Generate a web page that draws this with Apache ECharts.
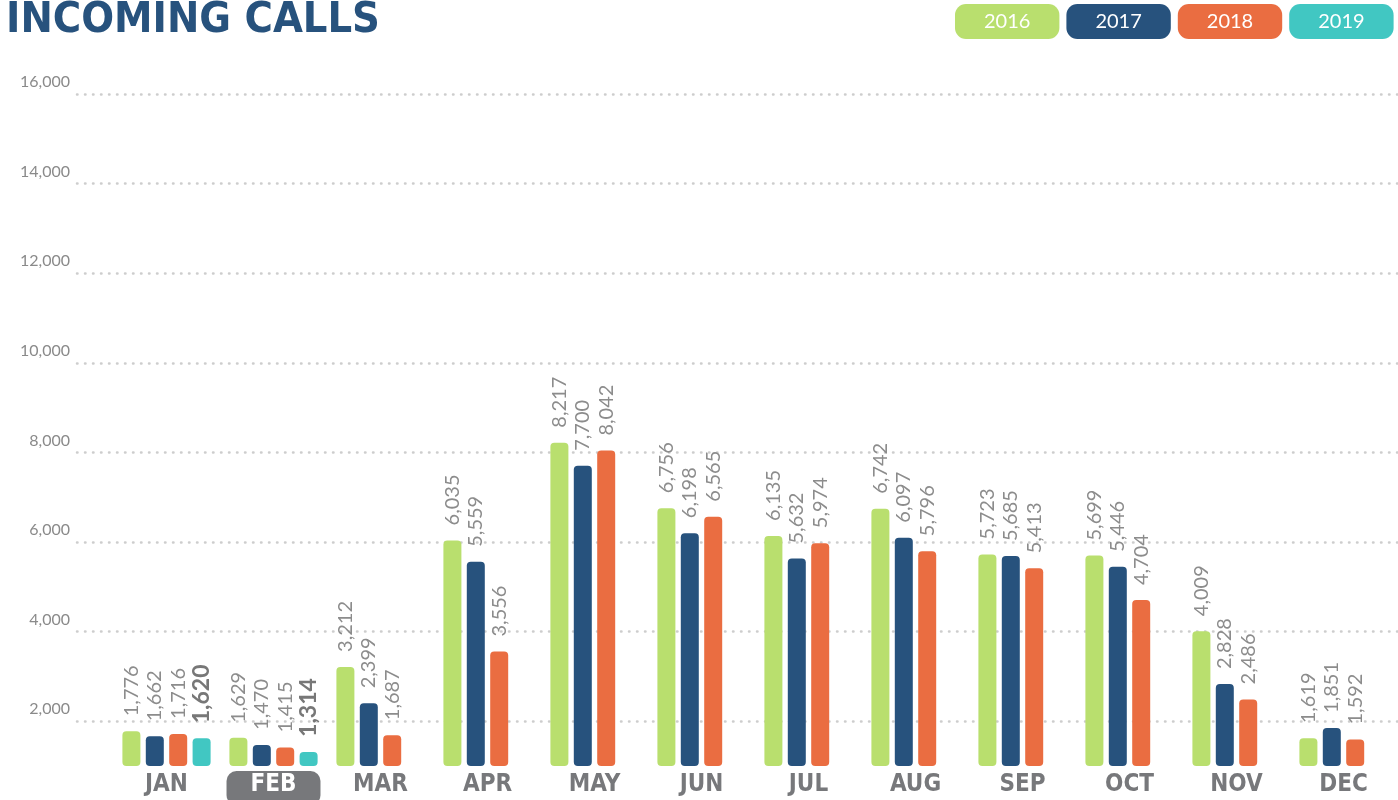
<!DOCTYPE html>
<html>
<head>
<meta charset="utf-8">
<script src="https://cdn.jsdelivr.net/npm/echarts@6/dist/echarts.min.js"></script>
<style>
html,body{margin:0;padding:0;background:#fff;}
#chart{width:1398px;height:800px;}
</style>
</head>
<body>
<div id="chart"></div>
<script>
const months = ['JAN','FEB','MAR','APR','MAY','JUN','JUL','AUG','SEP','OCT','NOV','DEC'];
const years = ['2016','2017','2018','2019'];
const calls2016 = [1776,1629,3212,6035,8217,6756,6135,6742,5723,5699,4009,1619];
const calls2017 = [1662,1470,2399,5559,7700,6198,5632,6097,5685,5446,2828,1851];
const calls2018 = [1716,1415,1687,3556,8042,6565,5974,5796,5413,4704,2486,1592];
const calls2019 = [1620,1314,null,null,null,null,null,null,null,null,null,null];
const yTicks = [2000,4000,6000,8000,10000,12000,14000,16000];
const highlightMonth = 'FEB';
const colors = ['#b9df6e','#27527d','#ea6d41','#41c7c2'];

const condensed = "'DejaVu Sans Condensed', 'Liberation Sans Narrow', 'DejaVu Sans', sans-serif";

const chart = echarts.init(document.getElementById('chart'));
const seriesData = [calls2016, calls2017, calls2018, calls2019];
const fmt = v => v.toLocaleString('en-US');

const series = seriesData.map((d, i) => ({
  name: years[i],
  type: 'bar',
  xAxisIndex: 1,
  yAxisIndex: 1,
  data: d,
  barWidth: 18,
  barGap: '30%',
  itemStyle: { color: colors[i], borderRadius: 4 },
  label: {
    show: true,
    position: 'top',
    rotate: 90,
    align: 'left',
    verticalAlign: 'middle',
    distance: 15,
    fontFamily: 'Lato',
    fontSize: i === 3 ? 23 : 20,
    fontWeight: i === 3 ? 'bold' : 'normal',
    color: i === 3 ? '#777777' : '#8c8c8c',
    formatter: p => p.value == null ? '' : fmt(p.value)
  }
}));

const option = {
  animation: false,
  backgroundColor: '#ffffff',
  title: {
    text: 'INCOMING CALLS',
    left: 6,
    top: -1,
    padding: 0,
    textStyle: {
      fontFamily: condensed,
      fontWeight: 'bold',
      fontSize: 43,
      color: '#27527d'
    }
  },
  legend: {
    data: years.map((y, i) => ({
      name: y,
      textStyle: { backgroundColor: colors[i] }
    })),
    left: 950,
    top: 4,
    width: 448,
    padding: 0,
    itemWidth: 0,
    itemHeight: 0,
    itemGap: 2,
    selectedMode: false,
    textStyle: {
      color: '#ffffff',
      fontFamily: 'Lato',
      fontSize: 20,
      height: 35,
      lineHeight: 35,
      padding: [0, 29, 0, 29],
      borderRadius: 11
    }
  },
  grid: [
    { left: 77, right: 0, top: 94, bottom: 34, outerBoundsMode: 'none', containLabel: false },
    { left: 113, right: 1, top: 94, bottom: 34, outerBoundsMode: 'none', containLabel: false }
  ],
  xAxis: [
    { type: 'value', gridIndex: 0, show: false, min: 0, max: 1 },
    {
      type: 'category',
      gridIndex: 1,
      data: months.map(m => m === highlightMonth ? {
        value: m,
        textStyle: { backgroundColor: '#77787b', color: '#ffffff' }
      } : m),
      axisLine: { show: false },
      axisTick: { show: false },
      axisLabel: {
        margin: 5,
        fontFamily: condensed,
        fontWeight: 'bold',
        fontSize: 24,
        color: '#77787b',
        padding: [2, 24, 8, 24],
        borderRadius: 10
      }
    }
  ],
  yAxis: [
    {
      type: 'value',
      gridIndex: 0,
      min: 1000,
      max: 16000,
      interval: 1000,
      axisLine: { show: false },
      axisTick: { show: false },
      axisLabel: {
        margin: 7,
        fontFamily: 'Lato',
        fontSize: 16,
        color: '#8a8a8a',
        verticalAlign: 'bottom',
        padding: [0, 0, 4, 0],
        formatter: v => yTicks.indexOf(v) >= 0 ? fmt(v) : ''
      },
      splitLine: {
        show: true,
        showMinLine: false,
        lineStyle: { color: ['#cdcdcd', 'rgba(0,0,0,0)'], width: 2.5, type: [0.5, 7.5], cap: 'round' }
      }
    },
    {
      type: 'value',
      gridIndex: 1,
      min: 1000,
      max: 16000,
      startValue: 1000,
      show: false,
      splitLine: { show: false }
    }
  ],
  series: series
};
chart.setOption(option);
</script>
</body>
</html>
